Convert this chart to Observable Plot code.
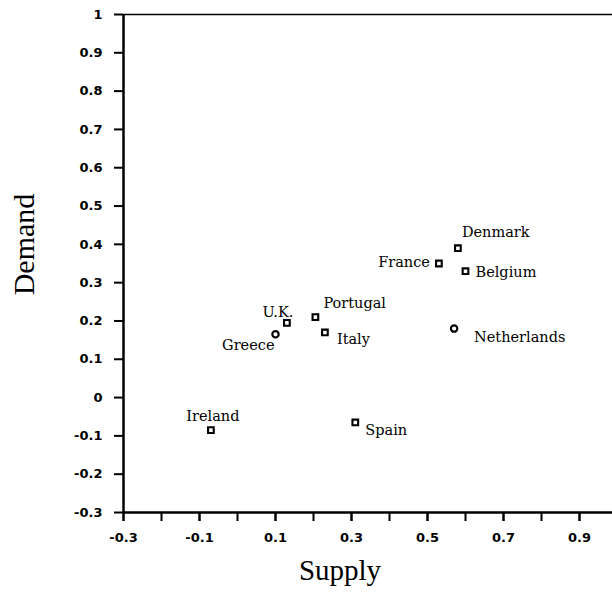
<!DOCTYPE html>
<html>
<head>
<meta charset="utf-8">
<script src="https://cdn.jsdelivr.net/npm/d3@7"></script>
<script src="https://cdn.jsdelivr.net/npm/@observablehq/plot@0.6"></script>
<style>
  html, body { margin: 0; padding: 0; background: #fff; }
</style>
</head>
<body>
<div id="chart"></div>
<script>
// ---- data ----
const countries = ["Denmark", "France", "Belgium", "Netherlands", "Portugal", "Italy", "Spain", "U.K.", "Greece", "Ireland"];
const supply    = [0.58, 0.53, 0.60, 0.57, 0.205, 0.23, 0.31, 0.13, 0.10, -0.07];
const demand    = [0.39, 0.35, 0.33, 0.18, 0.21, 0.17, -0.065, 0.195, 0.165, -0.085];
const markers   = ["square", "square", "square", "circle", "square", "square", "square", "square", "circle", "square"];

const xTickValues = [-0.3, -0.2, -0.1, 0, 0.1, 0.2, 0.3, 0.4, 0.5, 0.6, 0.7, 0.8, 0.9, 1.0];
const xTickLabels = [-0.3, -0.1, 0.1, 0.3, 0.5, 0.7, 0.9];
const yTickLabels = [-0.3, -0.2, -0.1, 0, 0.1, 0.2, 0.3, 0.4, 0.5, 0.6, 0.7, 0.8, 0.9, 1];

const xTitle = "Supply";
const yTitle = "Demand";

// ---- label placement (layout only) ----
const labelPlacement = {
  "Denmark":     {textAnchor: "start",  dx: 4,   dy: -16},
  "France":      {textAnchor: "end",    dx: -9,  dy: -1},
  "Belgium":     {textAnchor: "start",  dx: 10,  dy: 1},
  "Netherlands": {textAnchor: "start",  dx: 20,  dy: 9},
  "Portugal":    {textAnchor: "start",  dx: 8,   dy: -14},
  "Italy":       {textAnchor: "start",  dx: 12,  dy: 7},
  "Spain":       {textAnchor: "start",  dx: 10,  dy: 8},
  "U.K.":        {textAnchor: "middle", dx: -9,  dy: -11},
  "Greece":      {textAnchor: "end",    dx: -1,  dy: 11},
  "Ireland":     {textAnchor: "middle", dx: 2,   dy: -14}
};

const data = countries.map((c, i) => ({country: c, supply: supply[i], demand: demand[i], marker: markers[i]}));
const fmt = d => String(Math.round(d * 10) / 10);

const tickFont = {fontFamily: "DejaVu Sans", fontWeight: "bold", fontSize: 13};

const plot = Plot.plot({
  width: 612,
  height: 594,
  marginLeft: 123,
  marginRight: 0,
  marginTop: 14,
  marginBottom: 82,
  style: {background: "#fff", color: "#000"},
  x: {domain: [-0.3, 1.0], range: [123, 617]},
  y: {domain: [-0.3, 1], range: [512, 14]},
  marks: [
    // frame lines
    Plot.ruleY([1], {stroke: "#000", strokeWidth: 1.6}),
    Plot.ruleY([-0.3], {stroke: "#000", strokeWidth: 2.5}),
    Plot.ruleX([-0.3], {stroke: "#000", strokeWidth: 2.5}),
    // axes
    Plot.axisY({ticks: yTickLabels, tickSize: 9, tickPadding: 12, tickFormat: fmt, label: null, strokeWidth: 2, ...tickFont}),
    Plot.axisX({ticks: xTickValues, tickSize: 9, tickFormat: () => "", label: null, strokeWidth: 2}),
    Plot.axisX({ticks: xTickLabels, tickSize: 9, tickPadding: 11, tickFormat: fmt, label: null, strokeWidth: 2, ...tickFont}),
    // axis titles
    Plot.text([xTitle], {text: d => d, frameAnchor: "bottom", textAnchor: "middle", lineAnchor: "middle", dx: -28, dy: 58,
      fontFamily: "Liberation Serif", fontSize: 29}),
    Plot.text([yTitle], {text: d => d, frameAnchor: "left", textAnchor: "middle", lineAnchor: "middle", rotate: -90, dx: -99, dy: -19,
      fontFamily: "Liberation Serif", fontSize: 30}),
    // points
    Plot.dot(data, {x: "supply", y: "demand", symbol: "marker", r: 3.2, stroke: "#000", strokeWidth: 2.1, fill: "#fff"}),
    // labels
    ...countries.map(c => Plot.text(data.filter(d => d.country === c), {
      x: "supply", y: "demand", text: "country", lineAnchor: "middle",
      fontFamily: "DejaVu Serif", fontSize: 14.5, fill: "#000",
      ...labelPlacement[c]
    }))
  ]
});

document.getElementById("chart").appendChild(plot);
</script>
</body>
</html>
